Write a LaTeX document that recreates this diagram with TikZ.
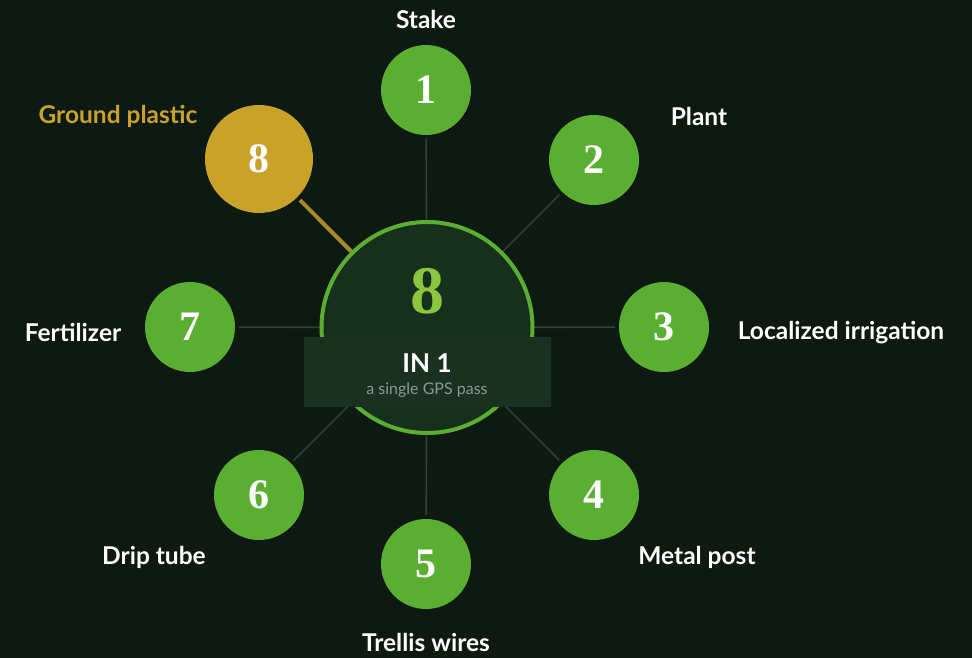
\documentclass[tikz,border=0pt]{standalone}
\usepackage{fontspec}
\setmainfont{Lato}
\newfontfamily\numfont{Liberation Serif}
\definecolor{bg}{HTML}{0E1912}
\definecolor{cgreen}{HTML}{5AAF32}
\definecolor{cgold}{HTML}{C9A22A}
\definecolor{cline}{HTML}{2A4530}
\definecolor{cgoldline}{HTML}{A48A2A}
\definecolor{cfill}{HTML}{17301C}
\definecolor{rfill}{HTML}{1A311F}
\definecolor{bignum}{HTML}{8CC63E}
\definecolor{subgray}{HTML}{8E9A90}
\tikzset{
  item/.style={circle,fill=cgreen,minimum size=90pt,inner sep=0pt,outer sep=4pt,text=white,
    font=\numfont\bfseries\fontsize{42}{42}\selectfont},
  goldi/.style={item,fill=cgold,minimum size=108pt},
  lbl/.style={text=white,font=\bfseries\fontsize{24.5}{24.5}\selectfont,inner sep=0pt},
  conn/.style={draw=cline,line width=1.6pt},
}
\begin{document}
\begin{tikzpicture}[x=1pt,y=-1pt]
\fill[bg] (0,0) rectangle (972,658);
\useasboundingbox (0,0) rectangle (972,658);
\node[circle,minimum size=211pt,inner sep=0pt,outer sep=0pt] (c) at (427,327.5) {};
\node[item] (n1) at (426,90) {1};
\node[item] (n2) at (594,160) {2};
\node[item] (n3) at (664,327) {3};
\node[item] (n4) at (594,495) {4};
\node[item] (n5) at (426,564) {5};
\node[item] (n6) at (259,495) {6};
\node[item] (n7) at (190,327) {7};
\node[goldi] (n8) at (259,159) {8};
\foreach \i in {1,...,7} {\draw[conn] (n\i) -- (c);}
\draw[draw=cgoldline,line width=4pt] (n8) -- (c);
\draw[draw=cgreen,fill=cfill,line width=4pt] (c.center) circle[radius=105.5pt];
\node[fill=rfill,minimum width=247pt,minimum height=70pt,inner sep=0pt] (r) at (427.5,372) {};
\node[text=bignum,font=\numfont\bfseries\fontsize{68}{68}\selectfont,inner sep=0pt] (big) at (427,291) {8};
\node[text=white,font=\bfseries\fontsize{26}{26}\selectfont,inner sep=0pt] (in1) at (427,363) {IN 1};
\node[text=subgray,font=\fontsize{16}{16}\selectfont,inner sep=0pt] (gps) at (427,390) {a single GPS pass};
\node[lbl] (l1) at (426,19) {Stake};
\node[lbl] (l2) at (699,116) {Plant};
\node[lbl] (l3) at (841,333) {Localized irrigation};
\node[lbl] (l4) at (697,557) {Metal post};
\node[lbl] (l5) at (426,642) {Trellis wires};
\node[lbl] (l6) at (154,557) {Drip tube};
\node[lbl] (l7) at (73,332) {Fertilizer};
\node[lbl,text=cgold] (l8) at (118,116) {Ground plastic};
\end{tikzpicture}
\end{document}
